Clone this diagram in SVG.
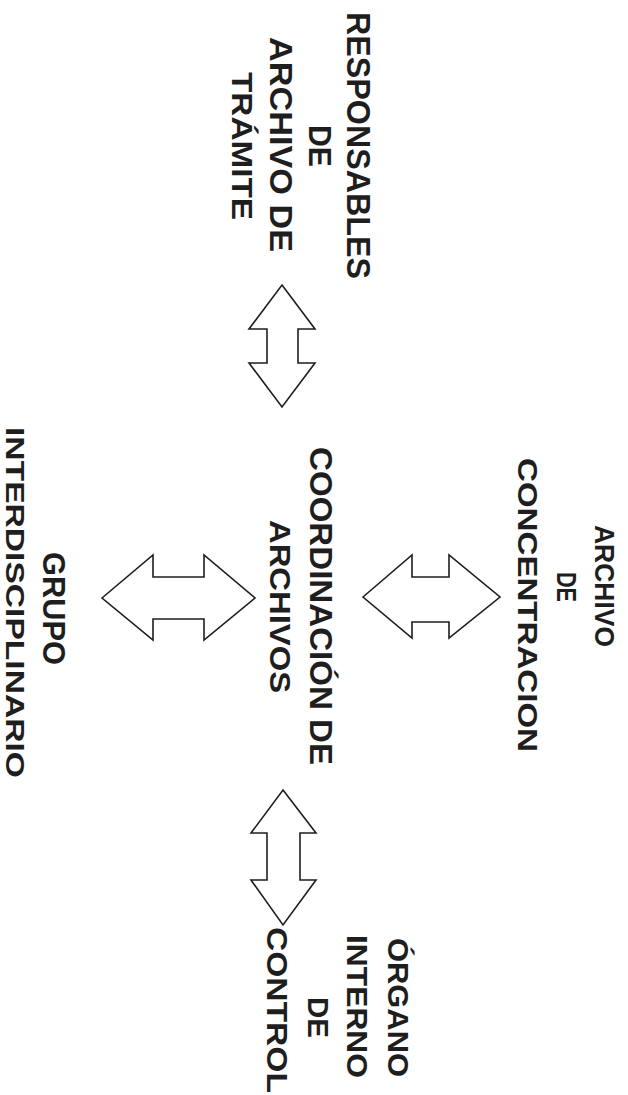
<svg xmlns="http://www.w3.org/2000/svg" width="628" height="1095" viewBox="0 0 628 1095">
<style>
text{font-family:"Liberation Sans",Arial,sans-serif;font-weight:bold;fill:#1e1e1e}
.arrow{fill:#fff;stroke:#1e1e1e;stroke-width:1.6;stroke-linejoin:miter}
</style>
<rect width="628" height="1095" fill="#fff"/>
<g id="responsables">
<text font-size="34" transform="translate(347,12) rotate(90)" textLength="267" lengthAdjust="spacingAndGlyphs">RESPONSABLES</text>
<text font-size="31" transform="translate(309,125) rotate(90)" textLength="42" lengthAdjust="spacingAndGlyphs">DE</text>
<text font-size="32" transform="translate(270,37) rotate(90)" textLength="215" lengthAdjust="spacingAndGlyphs">ARCHIVO DE</text>
<text font-size="30" transform="translate(232,72) rotate(90)" textLength="148" lengthAdjust="spacingAndGlyphs">TRÁMITE</text>
</g>
<g id="coordinacion">
<text font-size="31" transform="translate(310,447) rotate(90)" textLength="318" lengthAdjust="spacingAndGlyphs">COORDINACIÓN DE</text>
<text font-size="30" transform="translate(270,520) rotate(90)" textLength="173" lengthAdjust="spacingAndGlyphs">ARCHIVOS</text>
</g>
<g id="concentracion">
<text font-size="28" transform="translate(595,525) rotate(90)" textLength="122" lengthAdjust="spacingAndGlyphs">ARCHIVO</text>
<text font-size="28" transform="translate(557,572) rotate(90)" textLength="30" lengthAdjust="spacingAndGlyphs">DE</text>
<text font-size="28" transform="translate(518,458) rotate(90)" textLength="294" lengthAdjust="spacingAndGlyphs">CONCENTRACION</text>
</g>
<g id="grupo">
<text font-size="32" transform="translate(43,552) rotate(90)" textLength="113" lengthAdjust="spacingAndGlyphs">GRUPO</text>
<text font-size="26" transform="translate(6,427) rotate(90)" textLength="351" lengthAdjust="spacingAndGlyphs">INTERDISCIPLINARIO</text>
</g>
<g id="organo">
<text font-size="29" transform="translate(388,938) rotate(90)" textLength="139" lengthAdjust="spacingAndGlyphs">ÓRGANO</text>
<text font-size="29" transform="translate(347,935) rotate(90)" textLength="143" lengthAdjust="spacingAndGlyphs">INTERNO</text>
<text font-size="30" transform="translate(308,997) rotate(90)" textLength="41" lengthAdjust="spacingAndGlyphs">DE</text>
<text font-size="30" transform="translate(267,927) rotate(90)" textLength="166" lengthAdjust="spacingAndGlyphs">CONTROL</text>
</g>
<g id="connectors">
<path class="arrow" d="M282,285 L315,329 L298,329 L298,363 L315,363 L282,407 L249,363 L267,363 L267,329 L249,329 Z"/>
<path class="arrow" d="M283,790 L316,833 L300,833 L300,880 L316,880 L283,925 L251,880 L267,880 L267,833 L251,833 Z"/>
<path class="arrow" d="M102,598 L153,555 L153,577 L204,577 L204,555 L255,598 L204,640 L204,619 L153,619 L153,640 Z"/>
<path class="arrow" d="M363,597 L412,555 L412,577 L449,577 L449,555 L500,597 L449,638 L449,622 L412,622 L412,638 Z"/>
</g>
</svg>
